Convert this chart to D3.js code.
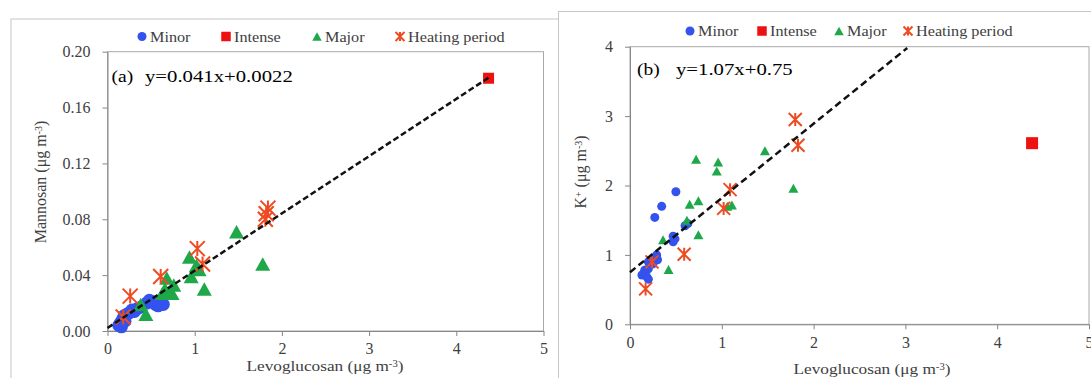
<!DOCTYPE html>
<html>
<head>
<meta charset="utf-8">
<script src="https://cdn.jsdelivr.net/npm/d3@7"></script>
<style>
  body { margin: 0; background: #fff; }
  svg { display: block; }
</style>
</head>
<body>
<svg id="chart" width="1091" height="378"></svg>
<script>
// ---- data ----
var seriesNames = ["Minor", "Intense", "Major", "Heating period"];
var xTicks = [0, 1, 2, 3, 4, 5];
var yTicksA = [0, 0.04, 0.08, 0.12, 0.16, 0.20];
var yTicksB = [0, 1, 2, 3, 4];

// (a) Mannosan vs Levoglucosan
var minorA = [[0.13,0.004],[0.15,0.006],[0.17,0.008],[0.19,0.011],[0.22,0.012],[0.25,0.013],
  [0.28,0.015],[0.31,0.014],[0.34,0.016],[0.38,0.017],[0.45,0.020],[0.48,0.022],[0.52,0.021],
  [0.55,0.019],[0.58,0.018],[0.61,0.020],[0.64,0.019],[0.16,0.003],[0.20,0.007]];
var intenseA = [[4.37,0.181]];
var majorA = [[1.48,0.071],[1.78,0.048],[0.94,0.053],[1.02,0.047],[0.96,0.039],[1.11,0.030],
  [0.68,0.038],[0.76,0.033],[0.74,0.027],[0.63,0.027],[0.38,0.019],[0.44,0.012],[0.66,0.030],[1.05,0.044]];
var heatingA = [[1.84,0.088],[1.82,0.084],[1.81,0.080],[1.03,0.059],[1.09,0.048],[0.61,0.039],
  [0.26,0.025],[0.18,0.010]];
var fitA = [0.041, 0.0022];   // slope, intercept
var fitSpanA = [0, 4.37];

// (b) K+ vs Levoglucosan
var minorB = [[0.50,1.91],[0.345,1.70],[0.27,1.54],[0.60,1.42],[0.63,1.45],[0.47,1.27],[0.47,1.19],
  [0.49,1.23],[0.29,1.00],[0.27,0.94],[0.20,0.90],[0.25,0.87],[0.30,0.93],[0.16,0.78],[0.20,0.80],
  [0.13,0.71],[0.18,0.69],[0.20,0.65]];
var intenseB = [[4.38,2.61]];
var majorB = [[1.47,2.50],[1.78,1.96],[0.72,2.38],[0.96,2.34],[0.945,2.21],[0.65,1.73],[0.745,1.78],
  [1.11,1.72],[1.06,1.70],[0.62,1.50],[0.36,1.22],[0.745,1.29],[0.42,0.79]];
var heatingB = [[1.80,2.95],[1.83,2.58],[1.09,1.94],[1.02,1.67],[0.24,0.90],[0.59,1.01],[0.17,0.51]];
var fitB = [1.07, 0.75];
var fitSpanB = [0, 3.02];

var colors = ["#3352ee", "#ee1111", "#1fa84a", "#ee4b22"];
var serif = "Times New Roman, Liberation Serif, serif";

var svg = d3.select("#chart");

// text with a little horizontal stretch, the source image is wider than tall
function label(sel, txt, x, y, size, sx, anchor, fill) {
  return sel.append("text")
    .attr("transform", "translate(" + x + "," + y + ") scale(" + sx + ",1)")
    .attr("text-anchor", anchor || "start")
    .attr("font-family", serif)
    .attr("font-size", size + "px")
    .attr("fill", fill || "#404040")
    .text(txt);
}

function unitTitle(t, name) {
  t.text(null);
  t.append("tspan").text(name + " (μg m");
  t.append("tspan").attr("font-size", "0.62em").attr("dy", "-0.45em").text("-3");
  t.append("tspan").attr("dy", "0.28em").text(")");
}

function marker(sel, kind, cx, cy, s, col) {
  if (kind == 0) {
    sel.append("circle").attr("cx", cx).attr("cy", cy).attr("r", s / 2).attr("fill", col);
  } else if (kind == 1) {
    sel.append("rect").attr("x", cx - s / 2).attr("y", cy - s / 2)
      .attr("width", s).attr("height", s).attr("fill", col);
  } else if (kind == 2) {
    var h = s * 0.9;
    sel.append("path")
      .attr("d", "M" + cx + "," + (cy - h / 2) + "L" + (cx + s / 2) + "," + (cy + h / 2) +
        "L" + (cx - s / 2) + "," + (cy + h / 2) + "Z")
      .attr("fill", col);
  } else {
    var r = s / 2;
    sel.append("path")
      .attr("d", "M" + (cx - r) + "," + (cy - r) + "L" + (cx + r) + "," + (cy + r) +
        "M" + (cx + r) + "," + (cy - r) + "L" + (cx - r) + "," + (cy + r) +
        "M" + cx + "," + (cy - r) + "L" + cx + "," + (cy + r))
      .attr("stroke", col).attr("stroke-width", 2).attr("fill", "none");
  }
}

function drawPanel(p) {
  var g = svg.append("g");

  // outer chart frame
  g.append("rect")
    .attr("x", p.frame[0]).attr("y", p.frame[1])
    .attr("width", p.frame[2]).attr("height", p.frame[3])
    .attr("fill", "#fff").attr("stroke", "#c6c6c6").attr("stroke-width", 1);

  var x = d3.scaleLinear().domain([0, 5]).range(p.xRange);
  var y = d3.scaleLinear().domain(p.yDomain).range(p.yRange);

  // plot area border
  g.append("rect")
    .attr("x", x(0)).attr("y", y(p.yDomain[1]))
    .attr("width", x(5) - x(0)).attr("height", y(p.yDomain[0]) - y(p.yDomain[1]))
    .attr("fill", "none").attr("stroke", "#a8a8a8");

  var ax = g.append("g").attr("transform", "translate(0," + y(p.yDomain[0]) + ")")
    .call(d3.axisBottom(x).tickValues(xTicks).tickSize(5).tickSizeOuter(0).tickPadding(7)
      .tickFormat(d3.format("d")));
  var ay = g.append("g").attr("transform", "translate(" + x(0) + ",0)")
    .call(d3.axisLeft(y).tickValues(p.yTicks).tickSize(5).tickSizeOuter(0).tickPadding(12)
      .tickFormat(p.fmt));
  [ax, ay].forEach(function (a) {
    a.select(".domain").attr("stroke", "#868686");
    a.selectAll(".tick line").attr("stroke", "#868686");
    a.selectAll(".tick text")
      .attr("font-family", serif).attr("font-size", "16px").attr("fill", "#404040");
  });

  // series
  var series = [p.minor, p.intense, p.major, p.heating];
  series.forEach(function (pts, k) {
    var sg = g.append("g");
    pts.forEach(function (d) {
      marker(sg, k, x(d[0]), y(d[1]), p.sizes[k], colors[k]);
    });
  });

  // trend line
  var fitPts = p.fitSpan.map(function (v) { return [v, p.fit[0] * v + p.fit[1]]; });
  g.append("path")
    .attr("d", d3.line().x(function (d) { return x(d[0]); }).y(function (d) { return y(d[1]); })(fitPts))
    .attr("fill", "none").attr("stroke", "#111").attr("stroke-width", 2.5)
    .attr("stroke-dasharray", p.dash);

  // legend
  seriesNames.forEach(function (name, k) {
    var lx = p.legendX[k];
    marker(g, k, lx - 8, p.legendY, k == 0 ? 9 : (k == 3 ? 9 : 9.5), colors[k]);
    label(g, name, lx, p.legendY + 5, 15, 1.08, "start", "#404040");
  });

  // equation
  label(g, p.tag, p.tagPos[0], p.tagPos[1], 17, 1.15, "start", "#000");
  label(g, p.eq, p.eqPos[0], p.eqPos[1], 17, 1.22, "start", "#000");

  // axis titles
  unitTitle(label(g, "", p.xTitle[0], p.xTitle[1], 15, 1.15, "middle"), "Levoglucosan");
  var yt = g.append("text")
    .attr("transform", "translate(" + p.yTitle[0] + "," + p.yTitle[1] + ") rotate(-90)")
    .attr("text-anchor", "middle").attr("font-family", serif)
    .attr("font-size", "16px").attr("fill", "#404040");
  if (p.yName == "K") {
    yt.append("tspan").text("K");
    yt.append("tspan").attr("font-size", "0.62em").attr("dy", "-0.45em").text("+");
    yt.append("tspan").attr("dy", "0.28em").text(" (μg m");
    yt.append("tspan").attr("font-size", "0.62em").attr("dy", "-0.45em").text("-3");
    yt.append("tspan").attr("dy", "0.28em").text(")");
  } else {
    unitTitle(yt, p.yName);
  }
}

drawPanel({
  frame: [11, 19, 600, 400],
  xRange: [107.5, 543.5], yDomain: [0, 0.2], yRange: [331, 51.7], yTicks: yTicksA,
  fmt: d3.format(".2f"),
  minor: minorA, intense: intenseA, major: majorA, heating: heatingA,
  sizes: [13, 11, 15, 15],
  fit: fitA, fitSpan: fitSpanA, dash: "6,3",
  legendX: [150, 234, 325, 408], legendY: 36.5,
  tag: "(a)", tagPos: [111.5, 82], eq: "y=0.041x+0.0022", eqPos: [145, 82],
  xTitle: [325, 371], yTitle: [46, 182], yName: "Mannosan"
});

drawPanel({
  frame: [558.5, 11.5, 600, 400],
  xRange: [630, 1089], yDomain: [0, 4], yRange: [324.3, 46.7], yTicks: yTicksB,
  fmt: d3.format("d"),
  minor: minorB, intense: intenseB, major: majorB, heating: heatingB,
  sizes: [9, 12, 10, 13],
  fit: fitB, fitSpan: fitSpanB, dash: "7,4",
  legendX: [698, 770, 847, 916], legendY: 31,
  tag: "(b)", tagPos: [637, 75], eq: "y=1.07x+0.75", eqPos: [676, 75],
  xTitle: [872, 374], yTitle: [586, 172], yName: "K"
});
</script>
</body>
</html>
